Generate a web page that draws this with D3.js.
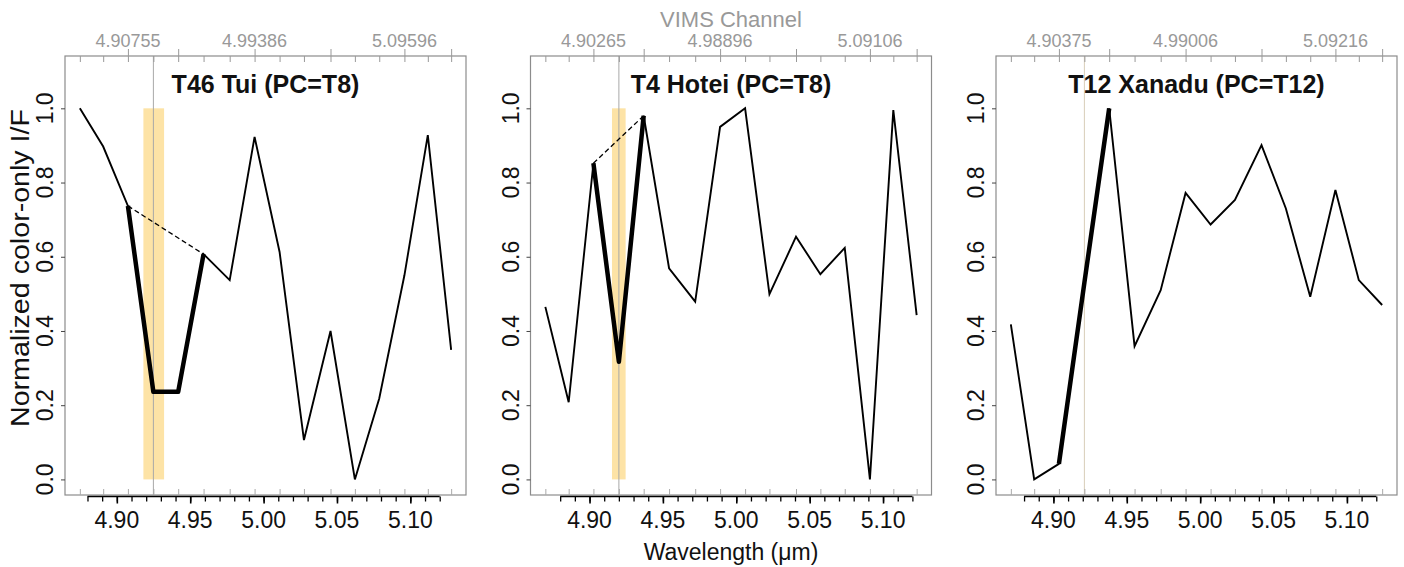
<!DOCTYPE html>
<html><head><meta charset="utf-8">
<script src="https://cdn.jsdelivr.net/npm/d3@7"></script>
<style>
body{margin:0;background:#fff}
text{font-family:"Liberation Sans",Arial,Helvetica,sans-serif}
</style>
</head><body>
<svg id="chart" width="1404" height="567"></svg>
<script>
// ---------- data ----------
const panelTitles = ["T46 Tui (PC=T8)", "T4 Hotei (PC=T8)", "T12 Xanadu (PC=T12)"];

const wavelengthsTui   = [4.8748, 4.8907, 4.90755, 4.9249, 4.9418, 4.9591, 4.9769, 4.99386, 5.0109, 5.0275, 5.0456, 5.0622, 5.0788, 5.09596, 5.1119, 5.1278];
const wavelengthsHotei = [4.8699, 4.8858, 4.90265, 4.9200, 4.9369, 4.9542, 4.9720, 4.98896, 5.0060, 5.0226, 5.0407, 5.0573, 5.0739, 5.09106, 5.1070, 5.1229];
const wavelengthsXanadu= [4.8710, 4.8869, 4.90375, 4.9211, 4.9380, 4.9553, 4.9731, 4.99006, 5.0071, 5.0237, 5.0418, 5.0584, 5.0750, 5.09216, 5.1081, 5.1240];

const valuesTui    = [1.000, 0.897, 0.737, 0.236, 0.236, 0.607, 0.537, 0.923, 0.613, 0.106, 0.400, 0.000, 0.218, 0.550, 0.928, 0.349];
const valuesHotei  = [0.465, 0.208, 0.852, 0.317, 0.980, 0.569, 0.479, 0.950, 1.000, 0.499, 0.654, 0.553, 0.624, 0.000, 0.995, 0.443];
const valuesXanadu = [0.418, 0.000, 0.042, 0.530, 1.000, 0.359, 0.510, 0.772, 0.687, 0.753, 0.901, 0.730, 0.492, 0.780, 0.537, 0.470];

// channel indices of the absorption feature (thick segment: first..last)
const featureTui    = [2, 5];
const featureHotei  = [2, 4];
const featureXanadu = [2, 4];
const centerChannel = 3;

// highlighted wavelength band (µm)
const bandTui    = [4.9181, 4.9322];
const bandHotei  = [4.9153, 4.9246];
const bandXanadu = null;

// top (VIMS channel) axis
const channelMajorIdx   = [2, 4, 7, 10, 13, 15];
const channelLabelIdx   = [2, 7, 13];
const channelLabelsTui    = ["4.90755", "4.99386", "5.09596"];
const channelLabelsHotei  = ["4.90265", "4.98896", "5.09106"];
const channelLabelsXanadu = ["4.90375", "4.99006", "5.09216"];

// bottom wavelength axis
const wavelengthMajorTicks = [4.90, 4.95, 5.00, 5.05, 5.10];
const wavelengthMinorTicks = [4.88, 4.89, 4.90, 4.91, 4.92, 4.93, 4.94, 4.95, 4.96, 4.97, 4.98, 4.99, 5.00,
                              5.01, 5.02, 5.03, 5.04, 5.05, 5.06, 5.07, 5.08, 5.09, 5.10, 5.11, 5.12];
const yTicks = [0.0, 0.2, 0.4, 0.6, 0.8, 1.0];
const yDomain = [-0.042, 1.141];

const panels = [
  {title: panelTitles[0], wl: wavelengthsTui, v: valuesTui, feat: featureTui, band: bandTui, labels: channelLabelsTui, cline: "#a8a8a8"},
  {title: panelTitles[1], wl: wavelengthsHotei, v: valuesHotei, feat: featureHotei, band: bandHotei, labels: channelLabelsHotei, cline: "#a8a8a8"},
  {title: panelTitles[2], wl: wavelengthsXanadu, v: valuesXanadu, feat: featureXanadu, band: bandXanadu, labels: channelLabelsXanadu, cline: "#d8cdb8"}
];

// ---------- layout ----------
const svg = d3.select("#chart");
svg.append("rect").attr("width",1404).attr("height",567).attr("fill","#fff");
const panelLefts = [65, 530.5, 996];
const pw = 401, plotTop = 56, plotBottom = 495;
const gray = "#999";

const y = d3.scaleLinear().domain(yDomain).range([plotBottom, plotTop]);

panels.forEach((p, i) => {
  const L = panelLefts[i];
  const ext = d3.extent(p.wl), pad = (ext[1]-ext[0])*0.04;
  const x = d3.scaleLinear().domain([ext[0]-pad, ext[1]+pad]).range([L, L+pw]);
  const g = svg.append("g");

  if (p.band) {
    g.append("rect")
      .attr("x", x(p.band[0])).attr("width", x(p.band[1]) - x(p.band[0]))
      .attr("y", y(1)).attr("height", y(0) - y(1))
      .attr("fill", "#fde3a6");
  }
  g.append("line")
    .attr("x1", x(p.wl[centerChannel])).attr("x2", x(p.wl[centerChannel]))
    .attr("y1", plotTop).attr("y2", plotBottom)
    .attr("stroke", p.cline).attr("stroke-width", 1);

  const pts = p.wl.map((w, k) => [w, p.v[k]]);
  const line = d3.line().x(d => x(d[0])).y(d => y(d[1]));

  g.append("path").attr("d", line(pts))
    .attr("fill","none").attr("stroke","#000").attr("stroke-width",1.9).attr("stroke-linejoin","miter");
  g.append("path").attr("d", line([pts[p.feat[0]], pts[p.feat[1]]]))
    .attr("fill","none").attr("stroke","#000").attr("stroke-width",1.3).attr("stroke-dasharray","5,3");
  g.append("path").attr("d", line(pts.slice(p.feat[0], p.feat[1]+1)))
    .attr("fill","none").attr("stroke","#000").attr("stroke-width",4.5).attr("stroke-linejoin","round");

  g.append("rect").attr("x", L).attr("y", plotTop).attr("width", pw).attr("height", plotBottom-plotTop)
    .attr("fill","none").attr("stroke","#8c8c8c").attr("stroke-width",1.2);

  g.append("g").attr("transform", `translate(0,${plotTop})`)
    .call(d3.axisBottom(x).tickValues(p.wl).tickSize(6).tickFormat(""))
    .call(a => { a.select(".domain").remove(); a.selectAll("line").attr("stroke", gray); });
  g.append("g").attr("transform", `translate(0,${plotTop})`)
    .call(d3.axisTop(x).tickValues(channelMajorIdx.map(k => p.wl[k])).tickSize(7).tickFormat(""))
    .call(a => { a.select(".domain").remove(); a.selectAll("line").attr("stroke", gray); });
  channelLabelIdx.forEach((k, j) => {
    g.append("text").attr("x", x(p.wl[k])).attr("y", 47)
      .attr("text-anchor","middle").attr("font-size",18).attr("fill", gray).text(p.labels[j]);
  });

  g.append("g").attr("transform", `translate(0,${plotBottom})`)
    .call(d3.axisTop(x).tickValues(p.wl).tickSize(6).tickFormat(""))
    .call(a => { a.select(".domain").remove(); a.selectAll("line").attr("stroke", "#aaa"); });

  const by = plotBottom + 1.5;
  g.append("line").attr("x1", x(wavelengthMinorTicks[0])).attr("x2", x(wavelengthMinorTicks[wavelengthMinorTicks.length-1]))
    .attr("y1", by).attr("y2", by).attr("stroke","#000").attr("stroke-width",1.6);
  g.append("g").attr("transform", `translate(0,${by})`)
    .call(d3.axisBottom(x).tickValues(wavelengthMinorTicks).tickSize(5).tickFormat(""))
    .call(a => { a.select(".domain").remove(); a.selectAll("line").attr("stroke","#000").attr("stroke-width",1.3); });
  g.append("g").attr("transform", `translate(0,${by})`)
    .call(d3.axisBottom(x).tickValues(wavelengthMajorTicks).tickSize(7).tickFormat(""))
    .call(a => { a.select(".domain").remove(); a.selectAll("line").attr("stroke","#000").attr("stroke-width",1.6); });
  wavelengthMajorTicks.forEach(t => {
    g.append("text").attr("x", x(t)).attr("y", 528)
      .attr("text-anchor","middle").attr("font-size",23).attr("fill","#111").text(d3.format(".2f")(t));
  });

  g.append("g").attr("transform", `translate(${L},0)`)
    .call(d3.axisLeft(y).tickValues(yTicks).tickSize(4).tickFormat(""))
    .call(a => { a.select(".domain").remove(); a.selectAll("line").attr("stroke","#444"); });
  yTicks.forEach(t => {
    g.append("text").attr("transform", `translate(${L-12},${y(t)}) rotate(-90)`)
      .attr("text-anchor","middle").attr("font-size",23).attr("fill","#111").text(d3.format(".1f")(t));
  });

  g.append("text").attr("x", L + pw/2).attr("y", 93)
    .attr("text-anchor","middle").attr("font-size",25).attr("font-weight","bold").attr("fill","#111").text(p.title);
});

svg.append("text").attr("x", 731).attr("y", 27).attr("text-anchor","middle")
  .attr("font-size",22).attr("fill", gray).text("VIMS Channel");
svg.append("text").attr("x", 731).attr("y", 560).attr("text-anchor","middle")
  .attr("font-size",23).attr("fill","#111").text("Wavelength (μm)");
svg.append("text").attr("transform", "translate(29,268) rotate(-90)").attr("text-anchor","middle")
  .attr("font-size",25).attr("textLength",318).attr("lengthAdjust","spacingAndGlyphs")
  .attr("fill","#111").text("Normalized color-only I/F");
</script>
</body></html>
